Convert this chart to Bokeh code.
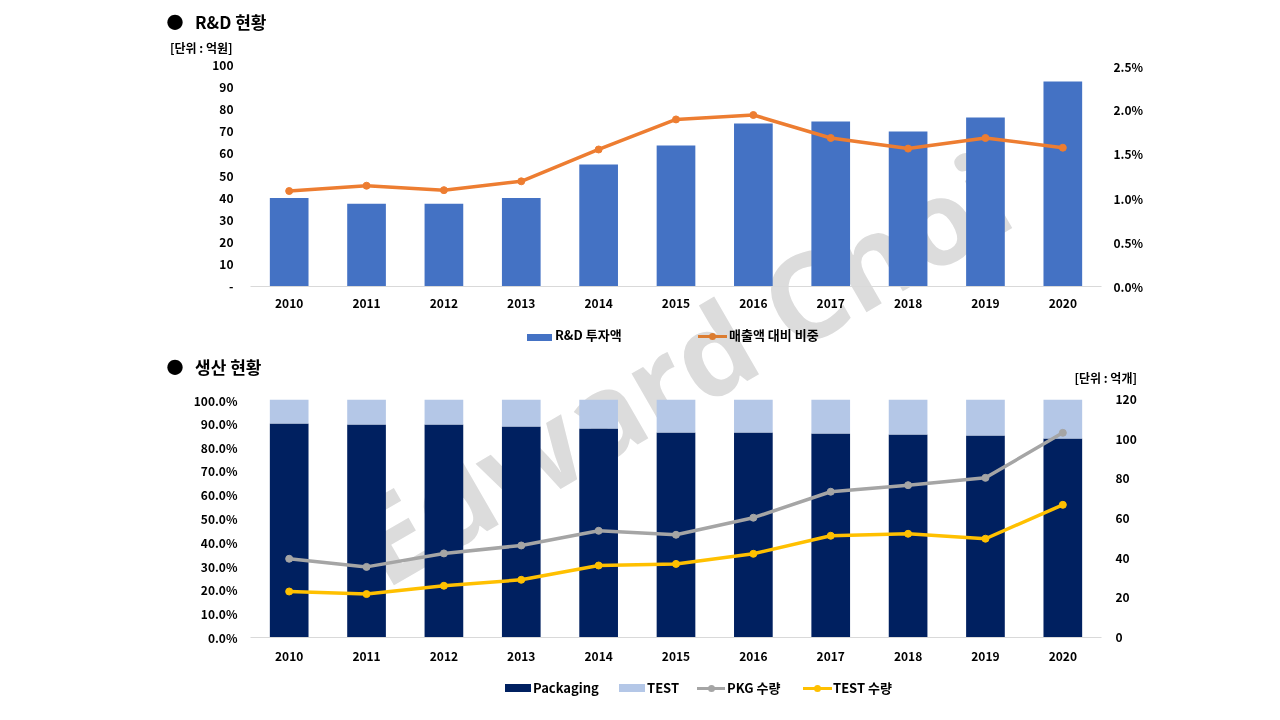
import html
from bokeh.plotting import figure
from bokeh.models import (Range1d, FactorRange, LinearAxis, FixedTicker, CustomJSTickFormatter,
                          ColumnDataSource, Div)
from bokeh.layouts import column
from bokeh.embed import file_html
from bokeh.resources import INLINE

# ---------------- data ----------------
years = ["2010", "2011", "2012", "2013", "2014", "2015", "2016", "2017", "2018", "2019", "2020"]
rnd_invest = [40.0, 37.5, 37.5, 40.0, 55.2, 63.8, 73.8, 74.7, 70.1, 76.5, 92.8]      # 억원
rnd_ratio = [1.08, 1.14, 1.09, 1.19, 1.55, 1.89, 1.94, 1.68, 1.56, 1.68, 1.57]        # %
pkg_share = [89.9, 89.5, 89.5, 88.7, 87.8, 86.1, 86.1, 85.7, 85.3, 84.9, 83.6]        # %
test_share = [10.1, 10.5, 10.5, 11.3, 12.2, 13.9, 13.9, 14.3, 14.7, 15.1, 16.4]       # %
pkg_qty = [39.7, 35.6, 42.4, 46.4, 53.8, 51.8, 60.4, 73.5, 76.8, 80.5, 103.2]         # 억개
test_qty = [23.2, 21.9, 26.1, 29.1, 36.3, 37.1, 42.2, 51.3, 52.3, 49.8, 66.9]         # 억개

top_left_ticks = [0, 10, 20, 30, 40, 50, 60, 70, 80, 90, 100]
top_right_ticks = [0.0, 0.5, 1.0, 1.5, 2.0, 2.5]
bot_left_ticks = [0, 10, 20, 30, 40, 50, 60, 70, 80, 90, 100]
bot_right_ticks = [0, 20, 40, 60, 80, 100, 120]

FONT = "Noto Sans CJK KR"
BLUE = "#4472C4"
ORANGE = "#ED7D31"
NAVY = "#002060"
LIGHT = "#B4C7E7"
GRAY = "#A5A5A5"
GOLD = "#FFC000"
W = 1280
FL, FR = 250, 1101          # frame left / right (page px), shared by both charts


def pct_fmt():
    return CustomJSTickFormatter(code="return tick.toFixed(1) + '%';")


def style_axis(ax, standoff, line_color=None):
    ax.major_tick_line_color = None
    ax.minor_tick_line_color = None
    ax.major_tick_out = 0
    ax.major_tick_in = 0
    ax.minor_tick_out = 0
    ax.axis_line_color = line_color
    ax.major_label_standoff = standoff
    ax.major_label_text_font = FONT
    ax.major_label_text_font_style = "bold"
    ax.major_label_text_font_size = "12px"
    ax.major_label_text_color = "#000000"


# ---------------- HTML helpers (titles / legends / watermark) ----------------
BASE = f"position:absolute;white-space:nowrap;font-family:'{FONT}';font-weight:bold;color:#000;"


def txt(x, yc, text, size, lh, align="left"):
    top = yc - lh / 2
    if align == "right":
        pos = f"right:{W - x}px;"
    elif align == "center":
        pos = f"left:{x - 15}px;width:30px;text-align:center;"
    else:
        pos = f"left:{x}px;"
    return (f"<div style=\"{BASE}{pos}top:{top}px;font-size:{size}px;line-height:{lh}px;\">"
            f"{html.escape(text)}</div>")


def box(x, yc, w, h, color):
    return (f"<div style=\"position:absolute;left:{x}px;top:{yc - h / 2}px;width:{w}px;"
            f"height:{h}px;background:{color};\"></div>")


def line_swatch(x, yc, w, color):
    m = 7
    return (box(x, yc, w, 3, color) +
            f"<div style=\"position:absolute;left:{x + w / 2 - m / 2}px;top:{yc - m / 2}px;"
            f"width:{m}px;height:{m}px;border-radius:50%;background:{color};\"></div>")


def watermark(cx, cy):
    w, h = 900, 160
    return (f"<div style=\"position:absolute;left:{cx - w / 2}px;top:{cy - h / 2}px;width:{w}px;"
            f"height:{h}px;line-height:{h}px;text-align:center;white-space:nowrap;"
            f"font-family:'Open Sans';font-weight:bold;font-size:118px;color:#DCDCDC;"
            f"transform:rotate(-30deg);mix-blend-mode:darken;pointer-events:none;\">"
            f"Edward Choi</div>")


def band(height, parts):
    inner = (f"<div style=\"position:relative;width:{W}px;height:{height}px;overflow:visible;\">"
             f"{''.join(parts)}</div>")
    return Div(text=inner, width=W, height=height, margin=0, styles={"overflow": "visible"})


def chart(height):
    p = figure(width=W, height=height, x_range=FactorRange(*years), y_range=Range1d(0, 100),
               output_backend="svg", toolbar_location=None,
               min_border_left=FL, min_border_right=W - FR, min_border_top=8, min_border_bottom=30,
               outline_line_color=None, background_fill_color=None, border_fill_color=None)
    p.xgrid.visible = False
    p.ygrid.visible = False
    return p


# band A: page y 0..57
divA = band(57, [txt(175, 22, "●", 17, 20, "center"),
                 txt(195, 22, "R&D 현황", 17, 20),
                 txt(170, 48, "[단위 : 억원]", 12, 16)])

# ---------------- top chart: R&D (page y 57..316) ----------------
p1 = chart(259)
p1.extra_y_ranges = {"ratio": Range1d(0, 2.5)}

src1 = ColumnDataSource(dict(year=years, rnd=rnd_invest, ratio=rnd_ratio))
p1.vbar(x="year", top="rnd", width=0.5, source=src1, fill_color=BLUE, line_color=None)
p1.line(x="year", y="ratio", y_range_name="ratio", source=src1, line_color=ORANGE, line_width=3.5)
p1.scatter(x="year", y="ratio", y_range_name="ratio", source=src1, size=7,
           fill_color=ORANGE, line_color=ORANGE)

ax = p1.left[0]
ax.ticker = FixedTicker(ticks=top_left_ticks)
ax.major_label_overrides = {0: "-"}
style_axis(ax, 17)
rax = LinearAxis(y_range_name="ratio", ticker=FixedTicker(ticks=top_right_ticks), formatter=pct_fmt())
style_axis(rax, 12)
p1.add_layout(rax, "right")
style_axis(p1.below[0], 12, "#D9D9D9")

# band B: page y 316..391 (legend 1, second title, unit label, watermark centre)
yB = 316
divB = band(75, [box(527, 337 - yB, 25, 7, BLUE),
                 txt(555, 335 - yB, "R&D 투자액", 13, 18),
                 line_swatch(698, 336 - yB, 29, ORANGE),
                 txt(729, 335 - yB, "매출액 대비 비중", 13, 18),
                 txt(175, 367 - yB, "●", 17, 20, "center"),
                 txt(195, 367 - yB, "생산 현황", 17, 20),
                 txt(1137, 378 - yB, "[단위 : 억개]", 12, 16, "right"),
                 watermark(680, 368 - yB)])

# ---------------- bottom chart: production (page y 391..667) ----------------
p2 = chart(276)
p2.extra_y_ranges = {"qty": Range1d(0, 120)}

src2 = ColumnDataSource(dict(year=years, pkg=pkg_share, test=test_share, pkgq=pkg_qty, testq=test_qty))
p2.vbar_stack(["pkg", "test"], x="year", width=0.5, source=src2,
              fill_color=[NAVY, LIGHT], line_color=None)
p2.line(x="year", y="pkgq", y_range_name="qty", source=src2, line_color=GRAY, line_width=3.5)
p2.scatter(x="year", y="pkgq", y_range_name="qty", source=src2, size=7,
           fill_color=GRAY, line_color=GRAY)
p2.line(x="year", y="testq", y_range_name="qty", source=src2, line_color=GOLD, line_width=3.5)
p2.scatter(x="year", y="testq", y_range_name="qty", source=src2, size=7,
           fill_color=GOLD, line_color=GOLD)

ax2 = p2.left[0]
ax2.ticker = FixedTicker(ticks=bot_left_ticks)
ax2.formatter = pct_fmt()
style_axis(ax2, 13)
rax2 = LinearAxis(y_range_name="qty", ticker=FixedTicker(ticks=bot_right_ticks))
style_axis(rax2, 14)
p2.add_layout(rax2, "right")
style_axis(p2.below[0], 14, "#D9D9D9")

# band C: page y 667..712 (legend 2)
yC = 667
divC = band(45, [box(505, 688 - yC, 26, 8, NAVY),
                 txt(533, 688 - yC, "Packaging", 13, 18),
                 box(619, 688 - yC, 26, 8, LIGHT),
                 txt(647, 688 - yC, "TEST", 13, 18),
                 line_swatch(697, 688 - yC, 28, GRAY),
                 txt(727, 688 - yC, "PKG 수량", 13, 18),
                 line_swatch(803, 688 - yC, 29, GOLD),
                 txt(833, 688 - yC, "TEST 수량", 13, 18)])

layout = column(divA, p1, divB, p2, divC)
open("out.html", "w").write(file_html(layout, INLINE))
